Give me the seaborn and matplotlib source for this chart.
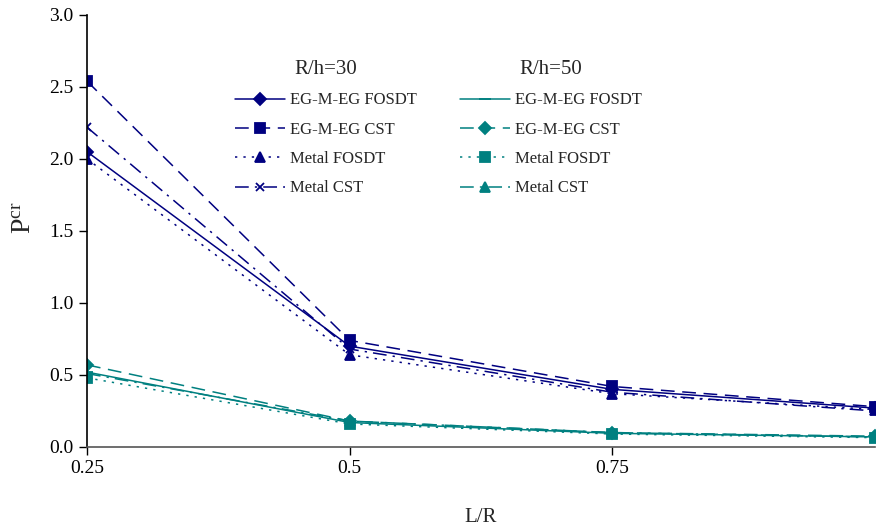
import matplotlib
matplotlib.use("Agg")
import matplotlib.pyplot as plt
import seaborn as sns
import pandas as pd

sns.set_theme(style="white")
plt.rcParams['font.family'] = ['Liberation Serif', 'DejaVu Serif']
plt.rcParams['mathtext.fontset'] = 'custom'
plt.rcParams['mathtext.rm'] = 'Liberation Serif'
plt.rcParams['mathtext.it'] = 'Liberation Serif:italic'

x_lr = [0.25, 0.5, 0.75, 1.0]

# R/h = 30
egm_fosdt_30 = [2.05, 0.70, 0.40, 0.27]
egm_cst_30 = [2.54, 0.74, 0.42, 0.28]
metal_fosdt_30 = [2.00, 0.64, 0.37, 0.26]
metal_cst_30 = [2.22, 0.68, 0.38, 0.25]

# R/h = 50
egm_fosdt_50 = [0.52, 0.17, 0.095, 0.07]
egm_cst_50 = [0.57, 0.18, 0.10, 0.075]
metal_fosdt_50 = [0.48, 0.16, 0.09, 0.065]
metal_cst_50 = [0.51, 0.18, 0.10, 0.07]

labels = ["EG-M-EG FOSDT", "EG-M-EG CST", "Metal FOSDT", "Metal CST"]
xticks = [0.25, 0.5, 0.75]
xtick_labels = ["0.25", "0.5", "0.75"]
yticks = [0.0, 0.5, 1.0, 1.5, 2.0, 2.5, 3.0]

navy = "#000080"
teal = "#008080"

fig = plt.figure(figsize=(8.77, 5.25), dpi=100)
ax = fig.add_axes([0.0992, 0.1486, 0.8985, 0.823])

dash = (0, (9, 5))
dot = (0, (1.5, 4))
dashdot = (0, (9, 4, 1.5, 4))
styles30 = [("-", "D", 6), (dash, "s", 7), (dot, "^", 7), (dashdot, "x", 6)]
styles50 = [("-", "_", 8), (dash, "D", 6), (dot, "s", 7), (dashdot, "^", 7)]

series30 = [egm_fosdt_30, egm_cst_30, metal_fosdt_30, metal_cst_30]
series50 = [egm_fosdt_50, egm_cst_50, metal_fosdt_50, metal_cst_50]

h30, h50 = [], []
for ys, lab, (ls, mk, ms) in zip(series30, labels, styles30):
    df = pd.DataFrame({"x": x_lr, "y": ys})
    sns.lineplot(data=df, x="x", y="y", ax=ax, color=navy, linestyle=ls, marker=mk,
                 markersize=ms, markeredgecolor=navy, markeredgewidth=1.3, linewidth=1.1, label=lab)
    h30.append(ax.get_lines()[-1])
for ys, lab, (ls, mk, ms) in zip(series50, labels, styles50):
    df = pd.DataFrame({"x": x_lr, "y": ys})
    sns.lineplot(data=df, x="x", y="y", ax=ax, color=teal, linestyle=ls, marker=mk,
                 markersize=ms, markeredgecolor=teal, markeredgewidth=1.3, linewidth=1.1, label=lab)
    h50.append(ax.get_lines()[-1])

ax.set_xlim(0.25, 1.0)
ax.set_ylim(0, 3.0)
ax.set_xticks(xticks)
ax.set_xticklabels(xtick_labels)
ax.set_yticks(yticks)
ax.set_yticklabels([f"{v:.1f}" for v in yticks])
ax.tick_params(axis="both", labelsize=14, colors="black", length=6, width=1, direction="out",
               left=True, bottom=True)

for s in ["top", "right"]:
    ax.spines[s].set_visible(False)
ax.spines["left"].set_color("black")
ax.spines["left"].set_linewidth(1.2)
ax.spines["bottom"].set_color("#555555")
ax.spines["bottom"].set_linewidth(1.2)

ax.set_xlabel("L/R", fontsize=15, labelpad=22)
ax.set_ylabel(r"P$^{\mathrm{cr}}$", fontsize=20)
ax.yaxis.set_label_coords(-0.063, 0.53)

if ax.get_legend() is not None:
    ax.get_legend().remove()

leg_kw = dict(loc="upper left", frameon=False, fontsize=12, title_fontsize=15, handlelength=3.0,
              labelspacing=0.8, handletextpad=0.3)
leg1 = ax.legend(h30, labels, title="R/h=30", bbox_to_anchor=(0.169, 0.93), **leg_kw)
ax.add_artist(leg1)
leg2 = ax.legend(h50, labels, title="R/h=50", bbox_to_anchor=(0.454, 0.93), **leg_kw)

fig.savefig("out.png", dpi=100)
